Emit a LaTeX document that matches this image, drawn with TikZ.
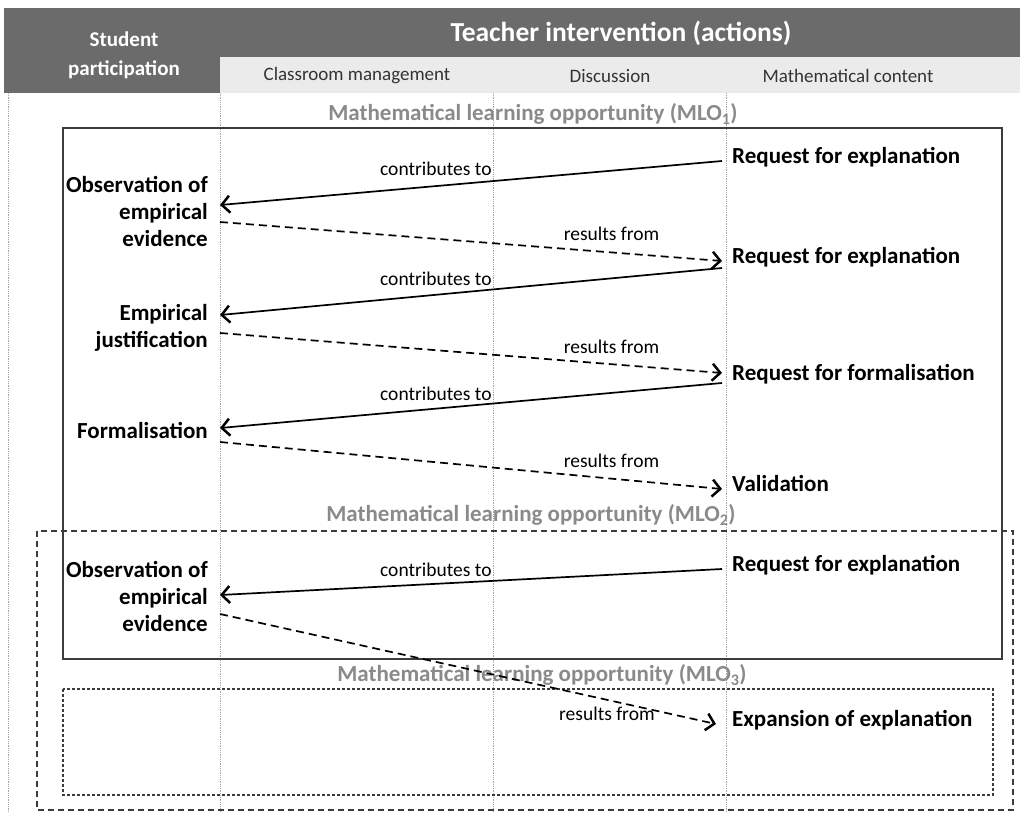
\documentclass[tikz,border=0pt]{standalone}
\usepackage{fontspec}
\setmainfont{Carlito}
\usetikzlibrary{arrows.meta}

\definecolor{headgray}{HTML}{6B6B6B}
\definecolor{bandgray}{HTML}{EBEBEB}
\definecolor{labelgray}{HTML}{8A8A8A}
\definecolor{linegray}{HTML}{3C3C3C}

\begin{document}
\begin{tikzpicture}[
	x = 1pt, y = -1pt,
	student/.style = {anchor = east, align = right, inner xsep = 12pt, inner ysep = 0pt, font = \bfseries\fontsize{23}{27}\selectfont},
	teacher/.style = {anchor = mid west, inner xsep = 10pt, inner ysep = 0pt, font = \bfseries\fontsize{23}{27}\selectfont},
	mlo/.style = {text = labelgray, font = \bfseries\fontsize{23}{27}\selectfont},
	contrib/.style = {-{Straight Barb[length = 8pt, width = 17pt, line width = 2.5pt]}, line width = 1.7pt},
	result/.style = {contrib, dash pattern = on 8pt off 5pt},
	rel/.style = {font = \fontsize{19.5}{22}\selectfont, inner sep = 2pt}
]

	\useasboundingbox (0, 0) rectangle (1020, 812);

	% Header
	
	\fill [headgray] (4, 8) rectangle (1020, 57);
	\fill [headgray] (4, 57) rectangle (220, 93);
	\fill [bandgray] (220, 57) rectangle (1020, 93);
	
	\node [white, align = center, font = \bfseries\fontsize{21}{29}\selectfont] (student) at (124, 55) {Student\\participation};
	\node [white, font = \bfseries\fontsize{27.5}{30}\selectfont] (teacher) at (621, 33) {Teacher intervention (actions)};
	
	\begin{scope}[black!80, font = \fontsize{19}{22}\selectfont]
		\node (manage) at (357, 76) {Classroom management};
		\node (discuss) at (610, 76) {Discussion};
		\node (content) at (848, 76) {Mathematical content};
	\end{scope}
	
	% Columns
	
	\foreach \x in {8, 220, 493, 726}
		\draw [densely dotted, gray!70, line width = 0.8pt] (\x, 93) -- (\x, 812);
	
	% Learning opportunities
	
	\draw [linegray, line width = 1.2pt] (63, 128) rectangle (1002, 659);
	\draw [linegray, line width = 1.2pt, dash pattern = on 6pt off 4pt] (37, 531) rectangle (1013, 810);
	\draw [linegray, line width = 1.2pt, dash pattern = on 3pt off 2pt] (63, 689) rectangle (993, 795);
	
	\node [mlo] (mloA) at (533, 114) {Mathematical learning opportunity (MLO\textsubscript{1})};
	\node [mlo] (mloB) at (531, 515) {Mathematical learning opportunity (MLO\textsubscript{2})};
	\node [mlo] (mloC) at (542, 675) {Mathematical learning opportunity (MLO\textsubscript{3})};
	
	% Student participation
	
	\node [student] (obsA) at (220, 211) {Observation of\\empirical\\evidence};
	\node [student] (justif) at (220, 328) {Empirical\\justification};
	\node [student] (formal) at (220, 430) {Formalisation};
	\node [student] (obsB) at (220, 596) {Observation of\\empirical\\evidence};
	
	% Teacher actions
	
	\node [teacher] (reqA) at (722, 161) {Request for explanation};
	\node [teacher] (reqB) at (722, 261) {Request for explanation};
	\node [teacher] (reqC) at (722, 378) {Request for formalisation};
	\node [teacher] (valid) at (722, 489) {Validation};
	\node [teacher] (reqD) at (722, 569) {Request for explanation};
	\node [teacher] (expand) at (722, 724) {Expansion of explanation};
	
	% Relations
	
	\draw [contrib] (reqA.mid west) -- node [rel, pos = 0.57, above = 8pt] {contributes to} ([yshift = 6pt]obsA.east);
	\draw [result] ([yshift = -11pt]obsA.east) -- node [rel, pos = 0.78, above = 9pt] {results from} (reqB.mid west);
	
	\draw [contrib] ([yshift = -7pt]reqB.mid west) -- node [rel, pos = 0.57, above = 6pt] {contributes to} ([yshift = 13pt]justif.east);
	\draw [result] ([yshift = -5pt]justif.east) -- node [rel, pos = 0.78, above = 8pt] {results from} ([yshift = 5pt]reqC.mid west);
	
	\draw [contrib] ([yshift = -5pt]reqC.mid west) -- node [rel, pos = 0.57, above = 5pt] {contributes to} ([yshift = 2pt]formal.east);
	\draw [result] ([yshift = -12pt]formal.east) -- node [rel, pos = 0.78, above = 8pt] {results from} (valid.mid west);
	
	\draw [contrib] (reqD.mid west) -- node [rel, pos = 0.57, above = 4pt] {contributes to} ([yshift = 1pt]obsB.east);
	\draw [result] ([yshift = -18pt]obsB.east) -- node [rel, pos = 0.78, below = 4pt] {results from} ([xshift = -6pt]expand.mid west);

\end{tikzpicture}
\end{document}
